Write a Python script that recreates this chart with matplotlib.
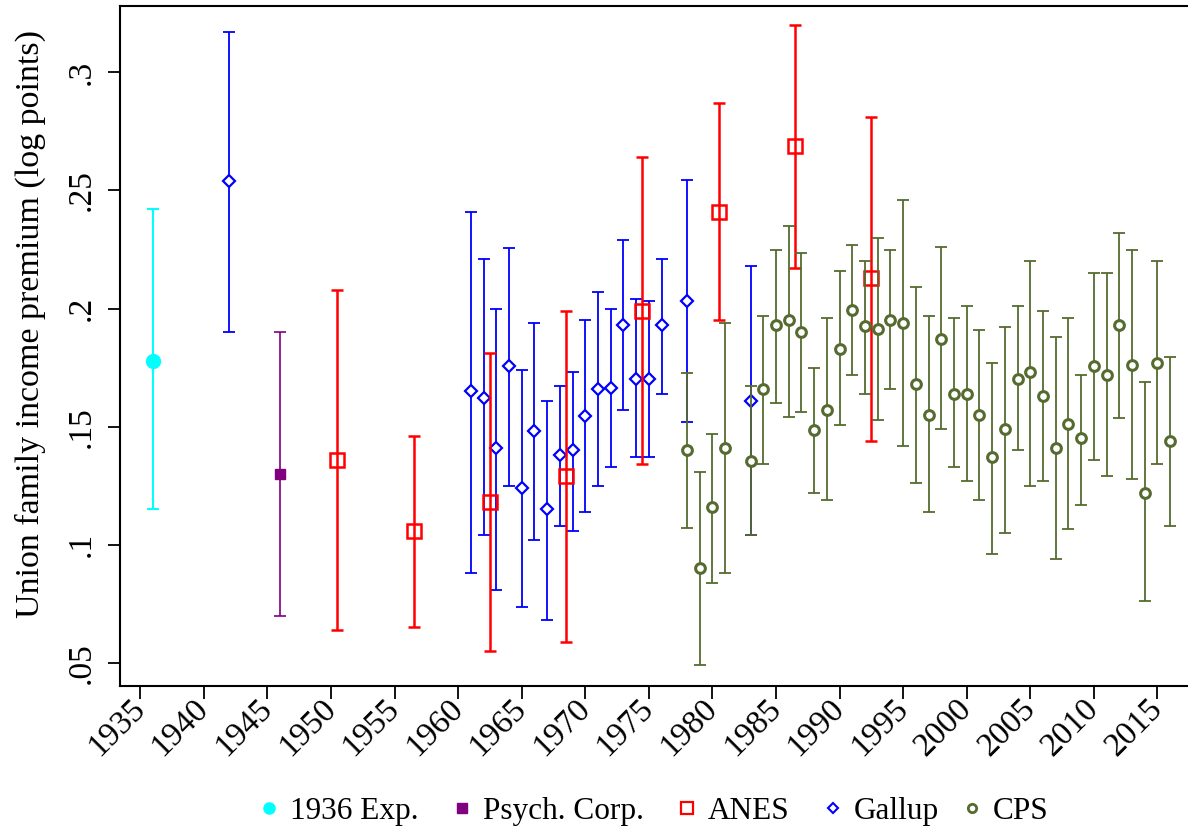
import matplotlib
matplotlib.use("Agg")
import matplotlib.pyplot as plt
from matplotlib.lines import Line2D
import numpy as np

plt.rcParams['font.family'] = ['Liberation Serif', 'DejaVu Serif']

# 1936 Expenditure survey
exp_year = [1936]
exp_est = [0.178]
exp_lo = [0.115]
exp_hi = [0.242]

# Psychological Corporation
psy_year = [1946]
psy_est = [0.130]
psy_lo = [0.070]
psy_hi = [0.190]

# ANES (pooled years)
anes_year = [1950.5, 1956.5, 1962.5, 1968.5, 1974.5, 1980.5, 1986.5, 1992.5]
anes_est = [0.136, 0.106, 0.118, 0.129, 0.199, 0.241, 0.269, 0.213]
anes_lo = [0.064, 0.065, 0.055, 0.059, 0.134, 0.195, 0.217, 0.144]
anes_hi = [0.208, 0.146, 0.181, 0.199, 0.264, 0.287, 0.320, 0.281]

# Gallup
gallup_year = [1942, 1961, 1962, 1963, 1964, 1965, 1966, 1967, 1968, 1969,
               1970, 1971, 1972, 1973, 1974, 1975, 1976, 1978, 1983]
gallup_est = [0.254, 0.165, 0.162, 0.141, 0.1755, 0.124, 0.148, 0.115, 0.138, 0.140,
              0.1545, 0.166, 0.1665, 0.193, 0.170, 0.170, 0.193, 0.203, 0.161]
gallup_lo = [0.190, 0.088, 0.104, 0.081, 0.125, 0.0735, 0.102, 0.068, 0.108, 0.106,
             0.114, 0.125, 0.133, 0.157, 0.137, 0.137, 0.164, 0.152, 0.104]
gallup_hi = [0.317, 0.241, 0.221, 0.200, 0.2255, 0.174, 0.194, 0.161, 0.167, 0.173,
             0.195, 0.207, 0.200, 0.229, 0.204, 0.203, 0.221, 0.2545, 0.218]

# CPS
cps_year = [1978, 1979, 1980, 1981,
            1983, 1984, 1985, 1986, 1987, 1988, 1989, 1990, 1991, 1992,
            1993, 1994, 1995, 1996, 1997, 1998, 1999, 2000, 2001, 2002,
            2003, 2004, 2005, 2006, 2007, 2008, 2009, 2010, 2011, 2012,
            2013, 2014, 2015, 2016]
cps_est = [0.140, 0.090, 0.116, 0.141,
           0.1356, 0.166, 0.193, 0.195, 0.190, 0.1486, 0.157, 0.183, 0.1995, 0.1925,
           0.1915, 0.195, 0.194, 0.168, 0.155, 0.187, 0.164, 0.164, 0.155, 0.137,
           0.149, 0.170, 0.173, 0.163, 0.141, 0.151, 0.145, 0.1755, 0.172, 0.193,
           0.176, 0.122, 0.177, 0.144]
cps_lo = [0.107, 0.049, 0.084, 0.088,
          0.104, 0.134, 0.160, 0.154, 0.156, 0.122, 0.119, 0.1505, 0.172, 0.164,
          0.153, 0.166, 0.142, 0.126, 0.114, 0.149, 0.133, 0.127, 0.119, 0.096,
          0.105, 0.140, 0.125, 0.127, 0.094, 0.1065, 0.117, 0.136, 0.129, 0.1535,
          0.128, 0.076, 0.134, 0.108]
cps_hi = [0.1726, 0.131, 0.147, 0.194,
          0.167, 0.197, 0.225, 0.235, 0.2235, 0.175, 0.196, 0.216, 0.227, 0.220,
          0.230, 0.225, 0.246, 0.209, 0.197, 0.226, 0.196, 0.201, 0.191, 0.177,
          0.192, 0.201, 0.220, 0.199, 0.188, 0.196, 0.172, 0.215, 0.215, 0.232,
          0.225, 0.169, 0.220, 0.1795]

x_ticks = list(range(1935, 2016, 5))
y_ticks = [0.05, 0.1, 0.15, 0.2, 0.25, 0.3]
y_tick_labels = ['.05', '.1', '.15', '.2', '.25', '.3']


def draw(ax, x, est, lo, hi, color, marker, ms, mfc, mew, lw, cap, z):
    est = np.array(est)
    err = [est - np.array(lo), np.array(hi) - est]
    ax.errorbar(x, est, yerr=err, fmt='none', ecolor=color, elinewidth=lw,
                capsize=cap, capthick=lw, zorder=z)
    ax.plot(x, est, linestyle='none', marker=marker, ms=ms, mfc=mfc,
            mec=color, mew=mew, zorder=z + 0.5)


fig = plt.figure(figsize=(11.88, 8.31), dpi=100)
ax = fig.add_axes([0.1014, 0.1748, 0.8986, 0.8177])

cyan = '#00FFFF'
purple = '#800080'
red = '#FF0000'
blue = '#0000FF'
green = '#556B2F'

draw(ax, exp_year, exp_est, exp_lo, exp_hi, cyan, 'o', 10, cyan, 1, 1.5, 4, 2)
draw(ax, psy_year, psy_est, psy_lo, psy_hi, purple, 's', 7.5, purple, 1, 1.2, 4, 2)
draw(ax, gallup_year, gallup_est, gallup_lo, gallup_hi, blue, 'D', 6, 'white', 1.6, 1.3, 4, 3)
draw(ax, anes_year, anes_est, anes_lo, anes_hi, red, 's', 9.5, 'none', 1.8, 1.8, 4, 4)
draw(ax, cps_year, cps_est, cps_lo, cps_hi, green, 'o', 7, 'white', 2.2, 1.3, 4, 5)

ax.set_xlim(1933.45, 2017.4)
ax.set_ylim(0.0403, 0.328)
ax.set_xticks(x_ticks)
ax.set_xticklabels([str(t) for t in x_ticks], rotation=45, ha='right',
                   va='center', rotation_mode='anchor', fontsize=24)
ax.set_yticks(y_ticks)
ax.set_yticklabels(y_tick_labels, rotation=90, va='center', fontsize=24)
ax.tick_params(axis='both', length=9, width=1.3)
ax.tick_params(axis='x', pad=4)
ax.tick_params(axis='y', pad=8)
ax.set_ylabel('Union family income premium (log points)', fontsize=24.5)
ax.yaxis.set_label_coords(-0.07, 0.532)

for side in ['left', 'bottom', 'top']:
    ax.spines[side].set_linewidth(1.5)
ax.spines['right'].set_visible(False)

handles = [
    Line2D([], [], linestyle='none', marker='o', ms=8, mfc=cyan, mec=cyan),
    Line2D([], [], linestyle='none', marker='s', ms=6.5, mfc=purple, mec=purple),
    Line2D([], [], linestyle='none', marker='s', ms=8, mfc='none', mec=red, mew=1.6),
    Line2D([], [], linestyle='none', marker='D', ms=5.5, mfc='none', mec=blue, mew=1.5),
    Line2D([], [], linestyle='none', marker='o', ms=6, mfc='none', mec=green, mew=2),
]
labels = ['1936 Exp.', 'Psych. Corp.', 'ANES', 'Gallup', 'CPS']
# left edge of each legend key, in figure pixels
key_left = [260, 453, 678, 824, 963]
for h, lab, xl in zip(handles, labels, key_left):
    fig.legend([h], [lab], loc='center left', bbox_to_anchor=(xl / 1188, 0.023),
               frameon=False, fontsize=22.5, handlelength=0.6, handletextpad=0.35,
               borderpad=0, borderaxespad=0)

fig.savefig('out.png', dpi=100)
